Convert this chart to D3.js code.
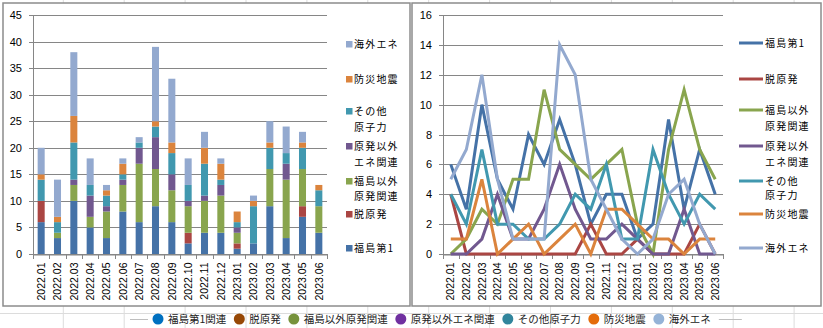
<!DOCTYPE html>
<html><head><meta charset="utf-8">
<script src="https://cdn.jsdelivr.net/npm/d3@7"></script>
<style>
html,body{margin:0;padding:0;background:#fff;}
svg{display:block;}
</style></head>
<body>
<svg id="c" width="823" height="328"></svg>
<script>
// ---- data ----
const months = ["2022.01","2022.02","2022.03","2022.04","2022.05","2022.06","2022.07","2022.08","2022.09","2022.10","2022.11","2022.12","2023.01","2023.02","2023.03","2023.04","2023.05","2023.06"];
const seriesNames = ["福島第1","脱原発","福島以外原発関連","原発以外エネ関連","その他原子力","防災地震","海外エネ"];
const fukushima1   = [6,3,10,5,3,8,6,9,6,2,4,4,1,2,9,3,7,4];
const datsuGenpatsu= [4,0,0,0,0,0,0,0,0,2,0,0,1,0,0,0,2,0];
const fukushimaIgai= [0,1,3,2,5,5,11,7,6,5,6,7,2,0,7,11,7,5];
const genpatsuIgai = [0,0,1,4,1,1,3,6,3,1,1,2,1,0,0,3,0,0];
const sonotaGenshi = [4,2,7,2,2,1,1,2,4,3,6,1,1,7,4,2,4,3];
const bousaiJishin = [1,1,5,0,1,2,0,1,2,0,3,3,2,1,1,0,1,1];
const kaigaiEne    = [5,7,12,5,1,1,1,14,12,5,3,1,0,1,4,5,2,0];
const leftTicks = [0,5,10,15,20,25,30,35,40,45];
const rightTicks = [0,2,4,6,8,10,12,14,16];
const legendLabels = [["福島第1"],["脱原発"],["福島以外","原発関連"],["原発以外","エネ関連"],["その他","原子力"],["防災地震"],["海外エネ"]];
const bottomLegend = ["福島第1関連","脱原発","福島以外原発関連","原発以外エネ関連","その他原子力","防災地震","海外エネ"];

const colors = ["#4572a7","#aa4643","#89a54e","#71588f","#4198af","#db843d","#93a9cf"];
const bottomColors = ["#0070c0","#974806","#77933c","#7030a0","#31859c","#e46c0a","#95b3d7"];
const allSeries = [fukushima1,datsuGenpatsu,fukushimaIgai,genpatsuIgai,sonotaGenshi,bousaiJishin,kaigaiEne];

const svg = d3.select("#c");
const JP = "'Noto Sans CJK JP','Noto Sans',sans-serif";
const NUM = "'Liberation Sans',Arial,sans-serif";
const gridCol = "#868686";

// sheet background gridlines
const bg = svg.append("g");
for (let k=1;k<=13;k++){ const x=2.4+60.9*k; bg.append("line").attr("x1",x).attr("x2",x).attr("y1",0).attr("y2",328).attr("stroke","#dcdcdc"); }
bg.append("line").attr("x1",0).attr("x2",823).attr("y1",313.5).attr("y2",313.5).attr("stroke","#dcdcdc");

// boxes
svg.append("rect").attr("x",3).attr("y",3).attr("width",407).attr("height",303).attr("fill","#fff").attr("stroke","#8c8c8c").attr("stroke-width",1.5);
svg.append("rect").attr("x",412).attr("y",3).attr("width",409).attr("height",303).attr("fill","#fff").attr("stroke","#8c8c8c").attr("stroke-width",1.5);

// table
const table = months.map((m,i)=>{ const o={month:m}; seriesNames.forEach((s,j)=>o[s]=allSeries[j][i]); return o; });

// ---------- LEFT: stacked bars ----------
const xL = d3.scaleBand().domain(months).range([33,327]).paddingInner(0.57).paddingOuter(0.285);
const yL = d3.scaleLinear().domain([0,45]).range([254,15]);
const gL = svg.append("g");
gL.append("g").selectAll("line").data(leftTicks).join("line")
  .attr("x1",29).attr("x2",327).attr("y1",d=>Math.round(yL(d))+0.5).attr("y2",d=>Math.round(yL(d))+0.5)
  .attr("stroke",gridCol).attr("stroke-width",1);
gL.append("g").selectAll("text").data(leftTicks).join("text")
  .attr("x",22).attr("y",d=>yL(d)+4).attr("text-anchor","end").attr("font-family",NUM).attr("font-size",11).attr("fill","#000").text(d=>d);
const stack = d3.stack().keys(seriesNames)(table);
gL.append("g").selectAll("g").data(stack).join("g").attr("fill",(d,i)=>colors[i])
  .selectAll("rect").data(d=>d).join("rect")
  .attr("x",d=>xL(d.data.month)).attr("width",xL.bandwidth())
  .attr("y",d=>yL(d[1])).attr("height",d=>yL(d[0])-yL(d[1]));
gL.append("line").attr("x1",33.5).attr("x2",33.5).attr("y1",15).attr("y2",254).attr("stroke",gridCol);
const axL = d3.axisBottom(xL).tickSize(0).tickSizeOuter(0);
const gxL = gL.append("g").attr("transform","translate(0,254.5)").call(axL);
gxL.select(".domain").attr("stroke",gridCol);
gxL.selectAll("text").attr("font-family",NUM).attr("font-size",10.5).attr("fill","#000")
  .attr("transform","rotate(-90)").attr("text-anchor","end").attr("dy","0.35em").attr("x",-8).attr("y",0);
gL.append("g").selectAll("line").data(d3.range(months.length+1)).join("line")
  .attr("x1",i=>Math.round(33+xL.step()*i)+0.5).attr("x2",i=>Math.round(33+xL.step()*i)+0.5).attr("y1",254).attr("y2",259).attr("stroke",gridCol);

// left legend (reversed)
const legYL = [[248],[214],[181,196],[146,162],[111,127],[79],[44]];
const gLL = svg.append("g");
seriesNames.forEach((s,i)=>{
  const ys = legYL[i];
  gLL.append("rect").attr("x",346).attr("y",ys[0]-3).attr("width",6.5).attr("height",6.5).attr("fill",colors[i]);
  legendLabels[i].forEach((t,k)=>{
    gLL.append("text").attr("x",354).attr("y",ys[k]+4).attr("font-family",JP).attr("font-size",10).attr("letter-spacing",1.2).attr("fill","#000").text(t);
  });
});

// ---------- RIGHT: lines ----------
const xR = d3.scaleBand().domain(months).range([443,723]);
const yR = d3.scaleLinear().domain([0,16]).range([254,15]);
const gR = svg.append("g");
gR.append("g").selectAll("line").data(rightTicks).join("line")
  .attr("x1",439).attr("x2",723).attr("y1",d=>Math.round(yR(d))+0.5).attr("y2",d=>Math.round(yR(d))+0.5)
  .attr("stroke",gridCol).attr("stroke-width",1);
gR.append("g").selectAll("text").data(rightTicks).join("text")
  .attr("x",432).attr("y",d=>yR(d)+4).attr("text-anchor","end").attr("font-family",NUM).attr("font-size",11).attr("fill","#000").text(d=>d);
gR.append("line").attr("x1",443.5).attr("x2",443.5).attr("y1",15).attr("y2",254).attr("stroke",gridCol);
const axR = d3.axisBottom(xR).tickSize(0).tickSizeOuter(0);
const gxR = gR.append("g").attr("transform","translate(0,254.5)").call(axR);
gxR.select(".domain").attr("stroke",gridCol);
gxR.selectAll("text").attr("font-family",NUM).attr("font-size",10.5).attr("fill","#000")
  .attr("transform","rotate(-90)").attr("text-anchor","end").attr("dy","0.35em").attr("x",-8).attr("y",0);
gR.append("g").selectAll("line").data(d3.range(months.length+1)).join("line")
  .attr("x1",i=>Math.round(443+xR.step()*i)+0.5).attr("x2",i=>Math.round(443+xR.step()*i)+0.5).attr("y1",254).attr("y2",259).attr("stroke",gridCol);
const line = d3.line().x((d,i)=>xR(months[i])+xR.bandwidth()/2).y(d=>yR(d));
gR.append("g").selectAll("path").data(allSeries).join("path")
  .attr("d",d=>line(d)).attr("fill","none").attr("stroke",(d,i)=>colors[i]).attr("stroke-width",3).attr("stroke-linejoin","miter");

// right legend
const legYR = [[43],[79],[110,126],[146,162],[181,195],[214],[248]];
const gRL = svg.append("g");
seriesNames.forEach((s,i)=>{
  const ys = legYR[i];
  gRL.append("line").attr("x1",739).attr("x2",763).attr("y1",ys[0]).attr("y2",ys[0]).attr("stroke",colors[i]).attr("stroke-width",3);
  legendLabels[i].forEach((t,k)=>{
    gRL.append("text").attr("x",765).attr("y",ys[k]+4).attr("font-family",JP).attr("font-size",10).attr("letter-spacing",1.2).attr("fill","#000").text(t);
  });
});

// bottom legend
const gB = svg.append("g");
gB.append("line").attr("x1",130).attr("x2",148).attr("y1",319.5).attr("y2",319.5).attr("stroke","#bfbfbf");
let cx = 158;
bottomLegend.forEach((t,i)=>{
  gB.append("circle").attr("cx",cx).attr("cy",319).attr("r",5.5).attr("fill",bottomColors[i]);
  const tx = gB.append("text").attr("x",cx+10).attr("y",322.7).attr("font-family",JP).attr("font-size",10.5).attr("fill","#222").text(t);
  const w = tx.node().getComputedTextLength();
  cx = cx + 10 + w + 13;
});
gB.append("line").attr("x1",cx-5).attr("x2",cx+18).attr("y1",319.5).attr("y2",319.5).attr("stroke","#bfbfbf");
</script>
</body></html>
